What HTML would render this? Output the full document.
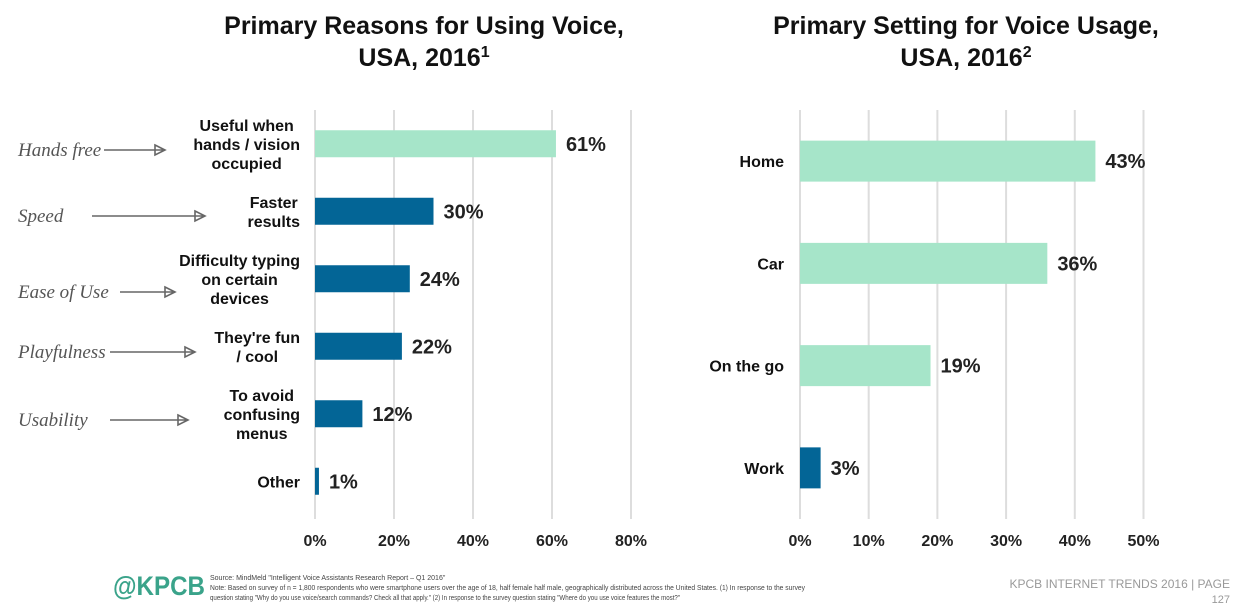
<!DOCTYPE html>
<html><head><meta charset="utf-8"><style>
html,body{margin:0;padding:0;background:#fff;width:1240px;height:609px;overflow:hidden}
svg{display:block;font-family:"Liberation Sans",Arial,sans-serif}
</style></head><body>
<svg id="s" width="1240" height="609" viewBox="0 0 1240 609">
<text x="424" y="34" text-anchor="middle" font-size="25" font-weight="bold" fill="#111">Primary Reasons for Using Voice,</text>
<text x="424" y="66" text-anchor="middle" font-size="25" font-weight="bold" fill="#111">USA, 2016<tspan font-size="16" dy="-9">1</tspan></text>
<text x="966" y="34" text-anchor="middle" font-size="25" font-weight="bold" fill="#111">Primary Setting for Voice Usage,</text>
<text x="966" y="66" text-anchor="middle" font-size="25" font-weight="bold" fill="#111">USA, 2016<tspan font-size="16" dy="-9">2</tspan></text>
<g id="left"></g><g id="right"></g><g id="notes"></g>
<text x="113" y="595" font-size="27" font-weight="bold" fill="#3aa38a" textLength="92" lengthAdjust="spacingAndGlyphs">@KPCB</text>
<text x="210" y="580" font-size="7" fill="#444">Source: MindMeld "Intelligent Voice Assistants Research Report – Q1 2016"</text>
<text x="210" y="590" font-size="7" fill="#444" textLength="595" lengthAdjust="spacingAndGlyphs">Note: Based on survey of n = 1,800 respondents who were smartphone users over the age of 18, half female half male, geographically distributed across the United States. (1) In response to the survey</text>
<text x="210" y="600" font-size="7" fill="#444" textLength="470" lengthAdjust="spacingAndGlyphs">question stating "Why do you use voice/search commands? Check all that apply." (2) In response to the survey question stating "Where do you use voice features the most?"</text>
<text x="1230" y="588" text-anchor="end" font-size="12" fill="#999">KPCB INTERNET TRENDS 2016 | PAGE</text>
<text x="1230" y="603" text-anchor="end" font-size="11" fill="#999">127</text>
</svg>
<script>
const leftCats=[["Useful when","hands / vision","occupied"],["Faster","results"],["Difficulty typing","on certain","devices"],["They're fun","/ cool"],["To avoid","confusing","menus"],["Other"]];
const leftVals=[61,30,24,22,12,1];
const leftTicks=[0,20,40,60,80];
const rightCats=["Home","Car","On the go","Work"];
const rightVals=[43,36,19,3];
const rightTicks=[0,10,20,30,40,50];
const notes=["Hands free","Speed","Ease of Use","Playfulness","Usability"];
const NS="http://www.w3.org/2000/svg";
function mk(p,t,a){const e=document.createElementNS(NS,t);for(const k in a)e.setAttribute(k,a[k]);p.appendChild(e);return e;}
function chart(g,cats,vals,ticks,x0,pxPer,yTop,yBot,barH,rightEdge,colors,nm){
  const xs=v=>x0+v*pxPer;
  const n=cats.length,step=(yBot-yTop)/n;
  const ys=i=>yTop+step*(i+0.5);
  ticks.forEach(t=>{
    const l=mk(g,'line',{x1:xs(t),x2:xs(t),y1:110,y2:519,stroke:'#ddd','stroke-width':2});
    
    
    const tx=mk(g,'text',{x:xs(t),y:546,'text-anchor':'middle','font-size':16,'font-weight':'bold',fill:'#222'});
    tx.textContent=t+'%';
    
    
  });
  vals.forEach((v,i)=>{
    const y=ys(i);
    const r=mk(g,'rect',{x:xs(0),y:y-barH/2,width:xs(v)-xs(0),height:barH,fill:colors(i)});
    
    
    const vt=mk(g,'text',{x:xs(v)+10,y:y+7,'font-size':20,'font-weight':'bold',fill:'#222'});
    vt.textContent=v+'%';
    
    
    const lines=Array.isArray(cats[i])?cats[i]:[cats[i]];
    const lt=mk(g,'text',{'text-anchor':'middle','font-size':16,'font-weight':'bold',fill:'#111'});
    
    
    const spans=lines.map((s,j)=>{const ts=mk(lt,'tspan',{x:0,y:y+6+(j-(lines.length-1)/2)*19});ts.textContent=s;return ts;});
    const w=Math.max(...spans.map(s=>s.getComputedTextLength()));
    spans.forEach(s=>s.setAttribute('x',rightEdge-w/2));
  });
}
chart(document.getElementById('left'),leftCats,leftVals,leftTicks,315,3.95,110,515,27,300,i=>i==0?'#a6e5c9':'#036596','left');
chart(document.getElementById('right'),rightCats,rightVals,rightTicks,800,6.87,110,519,41,784,i=>i<3?'#a6e5c9':'#036596','right');
const ng=document.getElementById('notes');
const ny=[150,216,292,352,420],ax=[[104,165],[92,205],[120,175],[110,195],[110,188]];
notes.forEach((s,i)=>{
  const t=mk(ng,'text',{x:18,y:ny[i]+6,'font-size':19,'font-style':'italic',fill:'#555','font-family':'"Liberation Serif",serif'});
  t.textContent=s;
  
  
  const a=mk(ng,'path',{d:`M${ax[i][0]} ${ny[i]} L${ax[i][1]} ${ny[i]} M${ax[i][1]-10} ${ny[i]-5} L${ax[i][1]} ${ny[i]} L${ax[i][1]-10} ${ny[i]+5} Z`,stroke:'#666','stroke-width':1.6,fill:'none'});
  
  
});
</script>
</body></html>
